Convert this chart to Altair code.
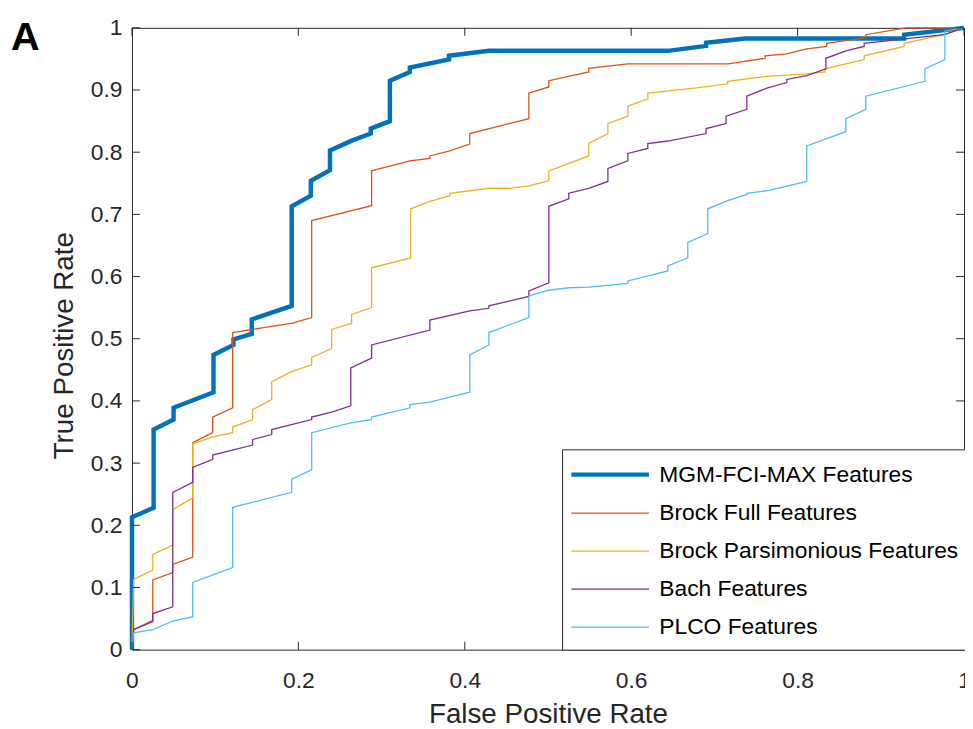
import altair as alt
import pandas as pd

SERIES = ["MGM-FCI-MAX Features", "Brock Full Features", "Brock Parsimonious Features",
          "Bach Features", "PLCO Features"]
COLORS = ["#0072BD", "#D95319", "#EDB120", "#7E2F8E", "#4DBEEE"]
WIDTHS = [4.5, 1.3, 1.3, 1.3, 1.3]

mgm_fpr = [0, 0, 0.026, 0.026, 0.050, 0.050, 0.098, 0.098, 0.122, 0.122, 0.144, 0.144, 0.192, 0.192,
           0.215, 0.215, 0.238, 0.238, 0.265, 0.287, 0.287, 0.310, 0.310, 0.334, 0.334, 0.381, 0.381,
           0.429, 0.644, 0.690, 0.690, 0.737, 0.928, 0.928, 1.0]
mgm_tpr = [0, 0.213, 0.228, 0.354, 0.370, 0.389, 0.414, 0.474, 0.490, 0.499, 0.508, 0.531, 0.553, 0.713,
           0.730, 0.754, 0.771, 0.803, 0.819, 0.830, 0.838, 0.850, 0.915, 0.929, 0.936, 0.949, 0.955,
           0.963, 0.963, 0.971, 0.976, 0.983, 0.983, 0.989, 1.0]

full_fpr = [0, 0.002, 0.025, 0.025, 0.049, 0.049, 0.073, 0.073, 0.097, 0.097, 0.121, 0.121, 0.193,
            0.216, 0.216, 0.288, 0.288, 0.334, 0.358, 0.358, 0.382, 0.406, 0.406, 0.477, 0.477, 0.501,
            0.501, 0.549, 0.549, 0.596, 0.716, 0.761, 0.761, 0.787, 0.811, 0.835, 0.835, 0.882, 0.882,
            0.930, 1.0]
full_tpr = [0, 0.032, 0.047, 0.112, 0.124, 0.137, 0.149, 0.333, 0.349, 0.374, 0.389, 0.510, 0.525,
            0.534, 0.690, 0.714, 0.770, 0.786, 0.790, 0.794, 0.802, 0.813, 0.830, 0.854, 0.895, 0.905,
            0.915, 0.929, 0.935, 0.942, 0.942, 0.951, 0.955, 0.958, 0.966, 0.970, 0.975, 0.984, 0.989,
            1.0, 1.0]

pars_fpr = [0, 0.002, 0.025, 0.025, 0.049, 0.049, 0.073, 0.073, 0.097, 0.121, 0.121, 0.145, 0.145,
            0.168, 0.168, 0.192, 0.216, 0.216, 0.240, 0.240, 0.264, 0.264, 0.288, 0.288, 0.335, 0.335,
            0.358, 0.382, 0.382, 0.429, 0.453, 0.477, 0.501, 0.501, 0.549, 0.549, 0.572, 0.572, 0.596,
            0.596, 0.620, 0.620, 0.676, 0.716, 0.716, 0.763, 0.811, 0.833, 0.833, 0.880, 0.880, 0.928,
            0.928, 0.976, 1.0]
pars_tpr = [0, 0.113, 0.128, 0.153, 0.168, 0.225, 0.244, 0.331, 0.342, 0.349, 0.358, 0.370, 0.386,
            0.402, 0.431, 0.447, 0.458, 0.470, 0.484, 0.515, 0.525, 0.539, 0.550, 0.614, 0.630, 0.709,
            0.721, 0.730, 0.734, 0.742, 0.742, 0.746, 0.754, 0.770, 0.794, 0.814, 0.830, 0.846, 0.858,
            0.874, 0.886, 0.895, 0.903, 0.910, 0.914, 0.922, 0.926, 0.929, 0.934, 0.949, 0.955, 0.970,
            0.975, 0.989, 1.0]

bach_fpr = [0, 0.002, 0.025, 0.025, 0.049, 0.049, 0.073, 0.073, 0.097, 0.097, 0.145, 0.145, 0.168,
            0.168, 0.216, 0.216, 0.240, 0.263, 0.263, 0.288, 0.288, 0.358, 0.358, 0.406, 0.429, 0.429,
            0.477, 0.477, 0.501, 0.501, 0.525, 0.525, 0.549, 0.572, 0.572, 0.596, 0.596, 0.620, 0.620,
            0.644, 0.690, 0.690, 0.714, 0.714, 0.739, 0.739, 0.763, 0.787, 0.787, 0.811, 0.834, 0.834,
            0.858, 0.880, 0.880, 0.976, 1.0]
bach_tpr = [0, 0.032, 0.045, 0.058, 0.069, 0.253, 0.269, 0.293, 0.306, 0.313, 0.329, 0.338, 0.346,
            0.354, 0.370, 0.374, 0.382, 0.392, 0.453, 0.469, 0.490, 0.514, 0.530, 0.545, 0.549, 0.553,
            0.568, 0.577, 0.590, 0.713, 0.725, 0.734, 0.742, 0.753, 0.774, 0.786, 0.798, 0.806, 0.814,
            0.818, 0.830, 0.838, 0.846, 0.858, 0.869, 0.890, 0.903, 0.912, 0.917, 0.923, 0.934, 0.951,
            0.963, 0.970, 0.975, 0.989, 1.0]

plco_fpr = [0, 0.002, 0.025, 0.049, 0.073, 0.073, 0.121, 0.121, 0.192, 0.192, 0.216, 0.216, 0.264,
            0.288, 0.288, 0.334, 0.334, 0.358, 0.406, 0.406, 0.429, 0.429, 0.477, 0.477, 0.501, 0.525,
            0.549, 0.596, 0.596, 0.644, 0.644, 0.668, 0.668, 0.692, 0.692, 0.716, 0.739, 0.739, 0.763,
            0.811, 0.811, 0.858, 0.858, 0.882, 0.882, 0.953, 0.953, 0.977, 0.977, 1.0]
plco_tpr = [0, 0.027, 0.032, 0.046, 0.053, 0.108, 0.132, 0.229, 0.253, 0.274, 0.289, 0.349, 0.365,
            0.370, 0.374, 0.389, 0.394, 0.398, 0.414, 0.474, 0.490, 0.510, 0.534, 0.569, 0.578, 0.582,
            0.583, 0.589, 0.593, 0.609, 0.617, 0.630, 0.655, 0.669, 0.709, 0.722, 0.732, 0.734, 0.738,
            0.753, 0.810, 0.833, 0.854, 0.869, 0.890, 0.914, 0.934, 0.949, 0.995, 1.0]

X_TICKS = [0, 0.2, 0.4, 0.6, 0.8, 1]
Y_TICKS = [0, 0.1, 0.2, 0.3, 0.4, 0.5, 0.6, 0.7, 0.8, 0.9, 1]
PANEL_LABEL = ["A"]

W, H = 839, 627
FONT = "Liberation Sans, Arial, Helvetica, sans-serif"
INK = "#262626"

rows = []
for name, xs, ys in zip(SERIES, [mgm_fpr, full_fpr, pars_fpr, bach_fpr, plco_fpr],
                        [mgm_tpr, full_tpr, pars_tpr, bach_tpr, plco_tpr]):
    for i, (a, b) in enumerate(zip(xs, ys)):
        rows.append({"series": name, "fpr": a, "tpr": b, "i": i})
df = pd.DataFrame(rows)

xscale = alt.Scale(domain=[0, 1], nice=False, zero=False)
yscale = alt.Scale(domain=[0, 1], nice=False, zero=False)

# wide horizontal stroke symbol whose nominal size stays small
legend = alt.Legend(
    title=None, orient="none", legendX=433.7, legendY=425, direction="vertical",
    symbolType="M-3,0H3", symbolSize=680, symbolOffset=23, labelFontSize=23, labelFont=FONT,
    labelColor="black", padding=10, strokeColor=INK, fillColor="white", rowPadding=12.3,
    labelOffset=34, labelLimit=400,
)

lines = alt.Chart(df).mark_line(interpolate="linear").encode(
    x=alt.X("fpr:Q", scale=xscale, axis=alt.Axis(
        values=X_TICKS, format="~g", grid=False, domain=False, ticks=False, tickSize=0,
        labelFlush=False,
        labelFontSize=23, labelFont=FONT, labelColor=INK, labelPadding=20,
        title="False Positive Rate", titleFontSize=28, titleFont=FONT, titleFontWeight="normal",
        titleColor=INK, titleBaseline="alphabetic", titleY=73.7)),
    y=alt.Y("tpr:Q", scale=yscale, axis=alt.Axis(
        values=Y_TICKS, format="~g", grid=False, domain=False, ticks=False, tickSize=0,
        labelFlush=False,
        labelFontSize=23, labelFont=FONT, labelColor=INK, labelPadding=10,
        title="True Positive Rate", titleFontSize=28, titleFont=FONT, titleFontWeight="normal",
        titleColor=INK, titleBaseline="alphabetic", titleAngle=-90, titleX=-59.7, titleY=320,
        titleAlign="center")),
    color=alt.Color("series:N", scale=alt.Scale(domain=SERIES, range=COLORS), sort=SERIES,
                    legend=legend),
    strokeWidth=alt.StrokeWidth("series:N",
                                scale=alt.Scale(type="ordinal", domain=SERIES, range=WIDTHS),
                                sort=SERIES, legend=legend),
    order=alt.Order("i:Q"),
)

xt = pd.DataFrame({"v": X_TICKS})
yt = pd.DataFrame({"v": Y_TICKS})
tick_len = 8
bottom_ticks = alt.Chart(xt).mark_rule(color=INK, strokeWidth=1).encode(
    x=alt.X("v:Q", scale=xscale), y=alt.value(H), y2=alt.value(H - tick_len))
top_ticks = alt.Chart(xt).mark_rule(color=INK, strokeWidth=1).encode(
    x=alt.X("v:Q", scale=xscale), y=alt.value(0), y2=alt.value(tick_len))
left_ticks = alt.Chart(yt).mark_rule(color=INK, strokeWidth=1).encode(
    y=alt.Y("v:Q", scale=yscale), x=alt.value(0), x2=alt.value(tick_len))
right_ticks = alt.Chart(yt).mark_rule(color=INK, strokeWidth=1).encode(
    y=alt.Y("v:Q", scale=yscale), x=alt.value(W), x2=alt.value(W - tick_len))

label = alt.Chart(pd.DataFrame({"t": PANEL_LABEL})).mark_text(
    align="left", baseline="alphabetic", fontSize=40, fontWeight="bold", font=FONT, color="black"
).encode(text="t:N", x=alt.value(-122), y=alt.value(22.7))

chart = alt.layer(lines, bottom_ticks, top_ticks, left_ticks, right_ticks, label).properties(
    width=W, height=H,
    autosize=alt.AutoSizeParams(type="none"),
    padding={"left": 125, "top": 17, "right": 1, "bottom": 76},
    background="white",
).configure_view(stroke=INK, strokeWidth=1)

chart.save("out.html", embed_options={"renderer": "svg", "actions": False})
